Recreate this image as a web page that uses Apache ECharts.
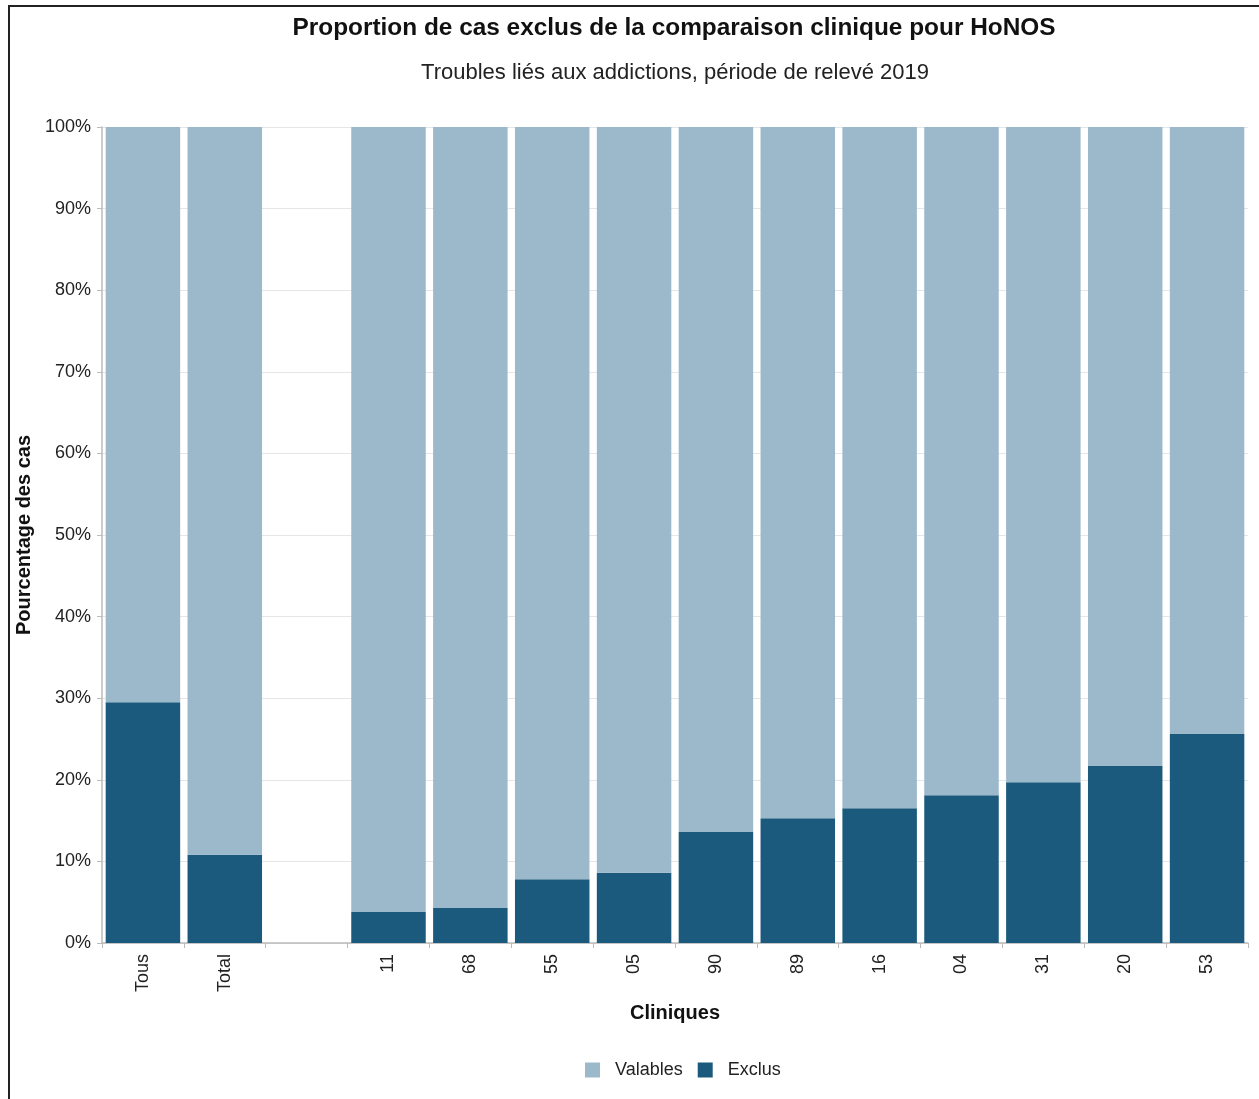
<!DOCTYPE html>
<html>
<head>
<meta charset="utf-8">
<script src="https://cdn.jsdelivr.net/npm/echarts@6/dist/echarts.min.js"></script>
<style>
  html, body { margin: 0; padding: 0; background: #fff; }
  #frame { position: absolute; left: 8px; top: 5px; width: 1251px; height: 1094px;
           border-left: 2px solid #222; border-top: 2px solid #222; box-sizing: border-box; }
  #chart { position: absolute; left: 0; top: 0; width: 1259px; height: 1099px; }
</style>
</head>
<body>
<div id="frame"></div>
<div id="chart"></div>
<script>
var cliniques = ['Tous', 'Total', '', '11', '68', '55', '05', '90', '89', '16', '04', '31', '20', '53']
var exclus = [29.5, 10.8, null, 3.8, 4.3, 7.8, 8.6, 13.6, 15.3, 16.5, 18.1, 19.7, 21.7, 25.6]
var valables = exclus.map(v => v == null ? null : +(100 - v).toFixed(1))

var Chart = echarts.init(document.getElementById('chart'))
var option = {
    textStyle: { fontFamily: 'Liberation Sans, Arial, sans-serif' },
    title: [
        {
            text: 'Proportion de cas exclus de la comparaison clinique pour HoNOS',
            left: 669, top: 11, textAlign: 'center',
            textStyle: { fontSize: 24.4, fontWeight: 'bold', color: '#111' }
        },
        {
            text: 'Troubles liés aux addictions, période de relevé 2019',
            left: 670, top: 57, textAlign: 'center',
            textStyle: { fontSize: 22, fontWeight: 'normal', color: '#222' }
        }
    ],
    grid: { left: 102, right: 11, top: 127, bottom: 156 },
    legend: {
        data: ['Valables', 'Exclus'],
        left: 580,
        top: 1056,
        itemWidth: 15,
        itemHeight: 15,
        itemGap: 15,
        icon: 'rect',
        textStyle: { fontSize: 18, color: '#222', padding: [0, 0, 0, 10] }
    },
    xAxis: {
        type: 'category',
        data: cliniques,
        name: 'Cliniques',
        nameLocation: 'middle',
        nameGap: 60,
        nameTextStyle: { fontSize: 20, fontWeight: 'bold', color: '#111' },
        axisLine: { lineStyle: { color: '#bbb', width: 1.5 } },
        axisTick: { show: true, length: 5, lineStyle: { color: '#bbb' } },
        axisLabel: { rotate: 90, fontSize: 18, color: '#222', margin: 11 }
    },
    yAxis: {
        type: 'value',
        min: 0, max: 100, interval: 10,
        name: 'Pourcentage des cas',
        nameLocation: 'middle',
        nameGap: 57,
        nameTextStyle: { fontSize: 20, fontWeight: 'bold', color: '#111' },
        axisLine: { show: true, lineStyle: { color: '#bbb', width: 1.5 } },
        axisTick: { show: true, length: 5, lineStyle: { color: '#bbb' } },
        axisLabel: { formatter: '{value}%', fontSize: 18, color: '#222', margin: 11 },
        splitLine: { lineStyle: { color: '#e6e6e6' } }
    },
    series: [
        {
            name: 'Exclus',
            type: 'bar',
            stack: 'cas',
            data: exclus,
            barCategoryGap: '9%',
            itemStyle: { color: '#1b5a7c' }
        },
        {
            name: 'Valables',
            type: 'bar',
            stack: 'cas',
            data: valables,
            barCategoryGap: '9%',
            itemStyle: { color: '#9bb9ca' }
        }
    ]
};
Chart.setOption(option)
</script>
</body>
</html>
